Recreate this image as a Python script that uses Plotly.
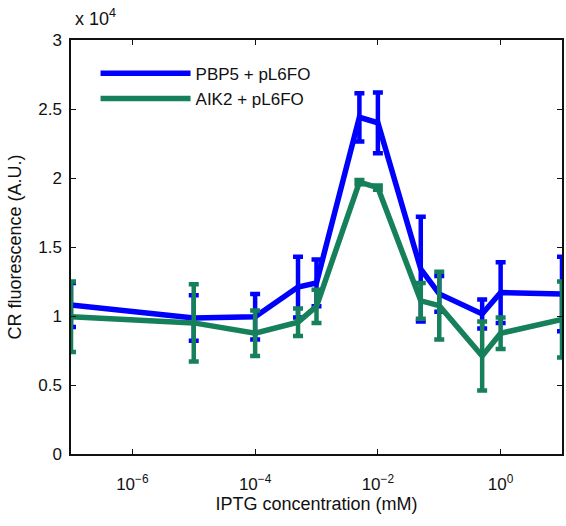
import plotly.graph_objects as go

iptg = [1e-7, 1e-5, 1e-4, 5e-4, 1e-3, 5e-3, 1e-2, 5e-2, 1e-1, 5e-1, 1, 10]

pbp5 = [10800, 9850, 9950, 12100, 12400, 24400, 24000, 13400, 11600, 10150, 11700, 11600]
pbp5_err = [1600, 1650, 1650, 2200, 1700, 1750, 2200, 3800, 1300, 1050, 2200, 2700]

aik2 = [9950, 9500, 8750, 9550, 10700, 19700, 19300, 11100, 10750, 7100, 8750, 9750]
aik2_err = [2550, 2800, 1650, 1000, 1200, 150, 150, 1300, 2450, 2500, 1150, 2750]

y_tickvals = [0, 5000, 10000, 15000, 20000, 25000, 30000]
y_ticktext = ["0", "0.5", "1", "1.5", "2", "2.5", "3"]
x_tickvals = [1e-6, 1e-4, 1e-2, 1e0]
x_ticktext = ["10<sup>\u22126</sup>", "10<sup>\u22124</sup>", "10<sup>\u22122</sup>", "10<sup>0</sup>"]

blue = "#0000FF"
green = "#15805A"

fig = go.Figure()
fig.add_trace(go.Scatter(
    x=iptg, y=pbp5, mode="lines", name="PBP5 + pL6FO", cliponaxis=False,
    line=dict(color=blue, width=5.5),
    error_y=dict(type="data", array=pbp5_err, color=blue, thickness=4.5, width=5),
))
fig.add_trace(go.Scatter(
    x=iptg, y=aik2, mode="lines", name="AIK2 + pL6FO", cliponaxis=False,
    line=dict(color=green, width=5.5),
    error_y=dict(type="data", array=aik2_err, color=green, thickness=4.5, width=5),
))

font = "Arial, Liberation Sans, sans-serif"
axcol = "#111"
fig.update_layout(
    width=566, height=526,
    margin=dict(l=71, r=4, t=40, b=72),
    paper_bgcolor="white", plot_bgcolor="white",
    font=dict(family=font, size=17, color="#111"),
    showlegend=True,
    legend=dict(x=0.05, y=0.962, xanchor="left", yanchor="top",
                bgcolor="rgba(0,0,0,0)", font=dict(size=17, color="#111"),
                itemwidth=90, tracegroupgap=0),
    xaxis=dict(type="log", range=[-7, 1], tickvals=x_tickvals, ticktext=x_ticktext,
               ticks="inside", ticklen=5, tickcolor=axcol, showline=True, linecolor=axcol,
               linewidth=1.5, mirror="ticks", showgrid=False, zeroline=False,
               automargin=False, ticklabelstandoff=14,
               title=dict(text="IPTG concentration (mM)", font=dict(size=18), standoff=4),
               tickfont=dict(size=17)),
    yaxis=dict(range=[0, 30000], tickvals=y_tickvals, ticktext=y_ticktext,
               ticks="inside", ticklen=5, tickcolor=axcol, showline=True, linecolor=axcol,
               linewidth=1.5, mirror="ticks", showgrid=False, zeroline=False,
               automargin=False, ticklabelstandoff=4,
               title=dict(text="CR fluorescence (A.U.)", font=dict(size=18), standoff=12),
               tickfont=dict(size=17)),
    annotations=[dict(text="x 10<sup>4</sup>", xref="paper", yref="paper", x=0.005, y=1.0,
                      xanchor="left", yanchor="bottom", showarrow=False,
                      font=dict(size=18, color="#111"), yshift=9)],
)

fig.write_html("out.html", config={"displayModeBar": False},
               post_script="document.body.style.margin='0';")
